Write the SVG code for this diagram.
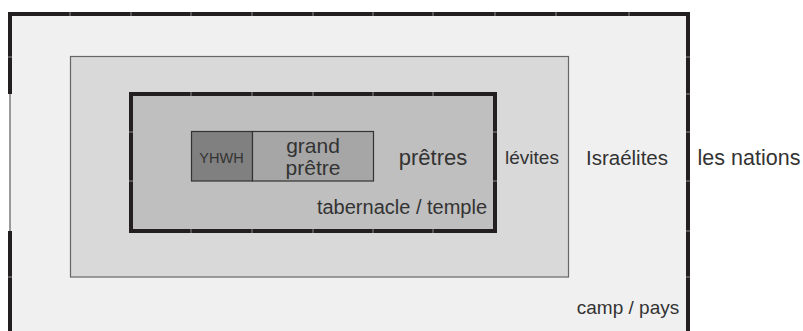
<svg xmlns="http://www.w3.org/2000/svg" width="803" height="331" viewBox="0 0 803 331">
  <style>
    text { font-family: "Liberation Sans", Arial, sans-serif; fill: #333333; text-anchor: middle; }
    .thick { fill: none; stroke: #231f20; stroke-width: 4; }
    .tick { stroke: #8a8a8a; stroke-width: 1; }
  </style>
  <rect width="803" height="331" fill="#ffffff"/>

  <!-- camp / pays -->
  <g id="camp">
    <rect x="10" y="14" width="678" height="320" fill="#f0f0f0"/>
    <path class="thick" d="M8 14 H688 V331"/>
    <path class="thick" d="M10 14 V94 M10 231 V331"/>
    <line x1="10" y1="94" x2="10" y2="231" stroke="#7a7a7a" stroke-width="1.5"/>
    <text x="628" y="314" font-size="19">camp / pays</text>
  </g>

  <!-- lévites -->
  <g id="levites">
    <rect x="70.5" y="56.5" width="498" height="220.5" fill="#d9d9d9" stroke="#666666" stroke-width="1.2"/>
    <text x="532" y="164" font-size="19">lévites</text>
  </g>

  <!-- tabernacle / temple -->
  <g id="tabernacle">
    <rect x="131" y="94" width="364" height="137" fill="#bfbfbf" stroke="#231f20" stroke-width="4"/>
    <text x="402" y="214" font-size="20">tabernacle / temple</text>
    <text x="433" y="165" font-size="22">prêtres</text>
  </g>

  <!-- YHWH -->
  <g id="yhwh">
    <rect x="191.5" y="131.5" width="61" height="49.5" fill="#808080" stroke="#333333" stroke-width="1.2"/>
    <text x="221.5" y="163" font-size="14.5">YHWH</text>
  </g>

  <!-- grand prêtre -->
  <g id="grand-pretre">
    <rect x="252.5" y="131.5" width="121" height="49.5" fill="#a6a6a6" stroke="#333333" stroke-width="1.2"/>
    <text x="313" y="153" font-size="21">grand</text>
    <text x="313" y="175" font-size="21">prêtre</text>
  </g>

  <g id="israelites">
    <text x="627" y="165" font-size="20.5">Israélites</text>
  </g>

  <g id="nations">
    <text x="749" y="165" font-size="21.5">les nations</text>
  </g>

  <!-- sheet grid lines showing through the heavy borders -->
  <g id="grid" class="tick">
    <path d="M70 12 V16 M131 12 V16 M191 12 V16 M252 12 V16 M313 12 V16 M373 12 V16 M433 12 V16 M495 12 V16 M556 12 V16 M629 12 V16"/>
    <path d="M686 57 H690 M686 94 H690 M686 132 H690 M686 181 H690 M686 231 H690 M686 277 H690"/>
    <path d="M8 57 H12 M8 277 H12"/>
    <path d="M191 92 V96 M252 92 V96 M313 92 V96 M373 92 V96 M433 92 V96"/>
    <path d="M191 229 V233 M252 229 V233 M313 229 V233 M373 229 V233 M433 229 V233"/>
    <path d="M129 132 H133 M129 181 H133 M493 132 H497 M493 181 H497"/>
  </g>
</svg>
